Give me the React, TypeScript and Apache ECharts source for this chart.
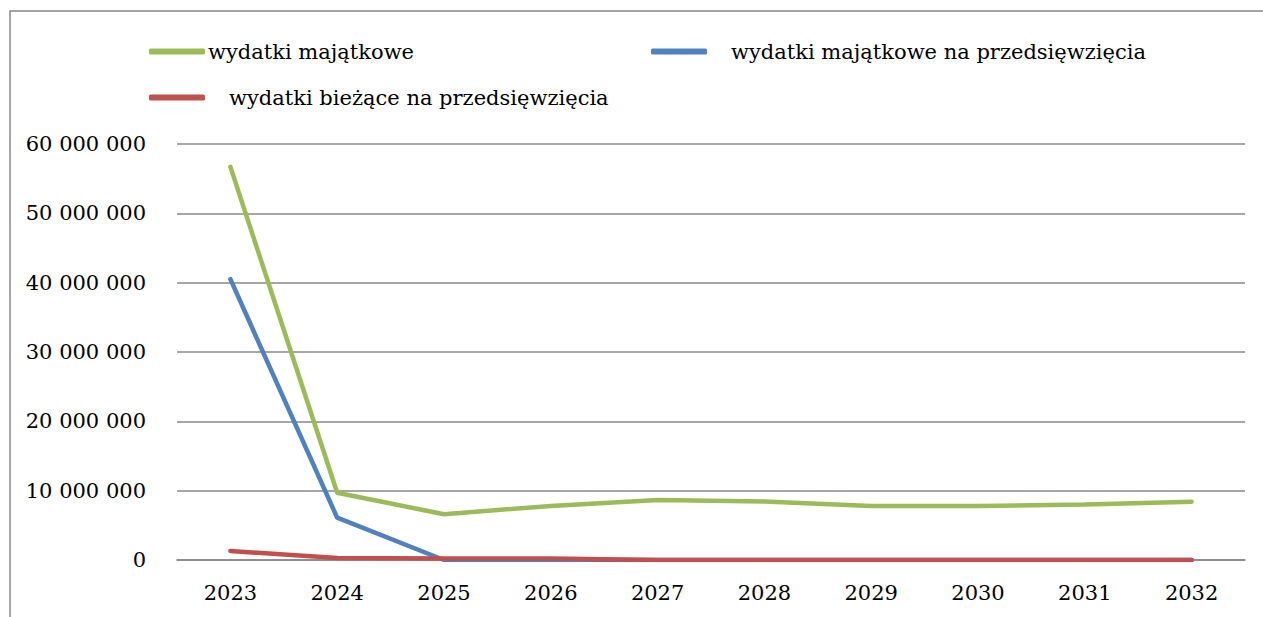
import React, { useEffect, useRef } from "react";
import * as echarts from "echarts";

const years = ["2023", "2024", "2025", "2026", "2027", "2028", "2029", "2030", "2031", "2032"];
const wydatkiMajatkowe = [56700000, 9700000, 6600000, 7800000, 8650000, 8450000, 7800000, 7800000, 8000000, 8400000];
const wydatkiMajatkoweNaPrzedsiewziecia = [40500000, 6100000, 0, 0, 0, 0, 0, 0, 0, 0];
const wydatkiBiezaceNaPrzedsiewziecia = [1300000, 300000, 200000, 200000, 0, 0, 0, 0, 0, 0];

const names = [
  "wydatki majątkowe",
  "wydatki majątkowe na przedsięwzięcia",
  "wydatki bieżące na przedsięwzięcia",
];
const colors = ["#9BBB59", "#4F81BD", "#C0504D"];
const font = "DejaVu Serif";

const fmt = (v: number) => String(Math.round(v)).replace(/\B(?=(\d{3})+(?!\d))/g, " ");

export default function App() {
  const ref = useRef<HTMLDivElement>(null);
  useEffect(() => {
    if (!ref.current) return;
    const chart = echarts.init(ref.current, undefined, { renderer: "svg" });
    const legendBase = {
      icon: "roundRect",
      itemWidth: 56,
      itemHeight: 6,
      selectedMode: false,
      textStyle: { fontFamily: font, fontSize: 21, color: "#000" },
    };
    chart.setOption({
      animation: false,
      backgroundColor: "#fff",
      color: colors,
      graphic: [
        {
          type: "rect",
          shape: { x: 10, y: 11, width: 1400, height: 800 },
          style: { fill: "none", stroke: "#888", lineWidth: 1.5 },
          silent: true,
        },
      ],
      legend: [
        { ...legendBase, left: 144, top: 36, data: [names[0]], textStyle: { ...legendBase.textStyle, padding: [0, 0, 0, -2] } },
        { ...legendBase, left: 646, top: 36, data: [names[1]], textStyle: { ...legendBase.textStyle, padding: [0, 0, 0, 19] } },
        { ...legendBase, left: 144, top: 82, data: [names[2]], textStyle: { ...legendBase.textStyle, padding: [0, 0, 0, 19] } },
      ],
      grid: { left: 177, right: 18, top: 144, bottom: 57, containLabel: false },
      xAxis: {
        type: "category",
        data: years,
        boundaryGap: true,
        axisLine: { show: true, lineStyle: { color: "#888", width: 1.5 } },
        axisTick: { show: false },
        axisLabel: { fontFamily: font, fontSize: 21, color: "#000", margin: 22 },
      },
      yAxis: {
        type: "value",
        min: 0,
        max: 60000000,
        interval: 10000000,
        axisLine: { show: false },
        axisTick: { show: false },
        splitLine: { lineStyle: { color: "#888", width: 1.5 } },
        axisLabel: { fontFamily: font, fontSize: 21, color: "#000", margin: 31, formatter: fmt },
      },
      series: [
        { name: names[0], type: "line", data: wydatkiMajatkowe, symbol: "none", lineStyle: { width: 4.5, color: colors[0], cap: "round" } },
        { name: names[1], type: "line", data: wydatkiMajatkoweNaPrzedsiewziecia, symbol: "none", lineStyle: { width: 4.5, color: colors[1], cap: "round" } },
        { name: names[2], type: "line", data: wydatkiBiezaceNaPrzedsiewziecia, symbol: "none", lineStyle: { width: 4.5, color: colors[2], cap: "round" } },
      ],
    });
    return () => chart.dispose();
  }, []);
  return <div ref={ref} style={{ position: "fixed", left: 0, top: 0, width: 1263, height: 617 }} />;
}
